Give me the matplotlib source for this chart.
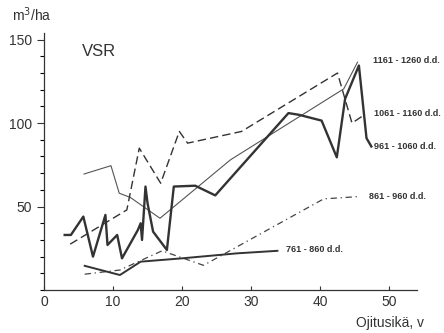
import matplotlib
matplotlib.use('Agg')
import matplotlib.pyplot as plt
from matplotlib.ticker import MultipleLocator

plt.rcParams['font.family'] = ['Liberation Sans', 'DejaVu Sans']

# Stand volume (m3/ha) against years since drainage, one series per temperature sum class
age_1161 = [5.8, 9.7, 10.9, 12.5, 16.8, 27.0, 43.4, 45.4]
vol_1161 = [69.5, 74.5, 58.0, 55.5, 43.0, 78.0, 120.5, 136.5]

age_1061 = [3.8, 12.0, 13.8, 16.9, 19.6, 20.8, 28.6, 42.5, 44.6, 46.4]
vol_1061 = [27.5, 48.0, 85.0, 64.0, 95.0, 88.0, 95.0, 130.0, 100.0, 105.0]

age_961 = [3.0, 3.9, 5.7, 7.1, 8.9, 9.2, 10.6, 11.3, 13.6, 14.0, 14.2, 14.7, 15.0,
           15.8, 17.8, 18.8, 21.9, 24.8, 35.4, 36.9, 40.2, 42.4, 43.6, 45.6, 46.7, 47.4]
vol_961 = [33.0, 33.0, 44.0, 20.0, 45.0, 27.0, 33.0, 19.0, 36.0, 40.0, 30.0, 62.0, 52.0,
           35.0, 24.0, 62.0, 62.5, 56.7, 106.0, 105.0, 101.5, 79.5, 114.5, 134.5, 91.0, 86.0]

age_861 = [5.9, 11.0, 17.1, 23.1, 40.5, 45.6]
vol_861 = [9.5, 12.0, 23.5, 14.8, 54.6, 56.0]

age_761 = [5.9, 11.0, 14.0, 20.0, 28.0, 33.8]
vol_761 = [14.5, 9.0, 17.0, 19.0, 22.0, 23.5]

labels = ['1161 - 1260 d.d.', '1061 - 1160 d.d.', '961 - 1060 d.d.',
          '861 - 960 d.d.', '761 - 860 d.d.']

x_ticks = [0, 10, 20, 30, 40, 50]
y_ticks = [50, 100, 150]

ink = '#333333'

fig = plt.figure(figsize=(4.44, 3.33), dpi=100)
ax = fig.add_axes([0.099, 0.129, 0.840, 0.772])

ax.plot(age_1161, vol_1161, color='#555555', lw=0.8)
ax.plot(age_1061, vol_1061, color=ink, lw=1.0, dashes=(6, 3))
ax.plot(age_961, vol_961, color=ink, lw=1.7)
ax.plot(age_861, vol_861, color='#444444', lw=0.9, dashes=(5, 3, 1, 3))
ax.plot(age_761, vol_761, color=ink, lw=1.4)

# class labels at the right end of each line
series = [(age_1161, vol_1161), (age_1061, vol_1061), (age_961, vol_961),
          (age_861, vol_861), (age_761, vol_761)]
offsets = [(11, 1), (7, 1), (2, 0), (7, 0), (6, 1)]
for (xs, ys), lab, off in zip(series, labels, offsets):
    ax.annotate(lab, xy=(xs[-1], ys[-1]), xytext=off, textcoords='offset points',
                fontsize=6.5, fontweight='bold', color=ink, va='center', ha='left',
                annotation_clip=False)

ax.text(5.5, 143, 'VSR', fontsize=12, color=ink, va='center')

ax.set_xlim(0, 54)
ax.set_ylim(0, 154)
ax.set_xticks(x_ticks)
ax.set_yticks(y_ticks)
ax.yaxis.set_minor_locator(MultipleLocator(10))
ax.tick_params(axis='both', labelsize=10, colors=ink, width=0.8)
ax.tick_params(axis='y', which='major', length=5)
ax.tick_params(axis='y', which='minor', length=3, width=0.8)
ax.tick_params(axis='x', which='major', direction='in', length=3)

for side in ['top', 'right']:
    ax.spines[side].set_visible(False)
for side in ['left', 'bottom']:
    ax.spines[side].set_color(ink)
    ax.spines[side].set_linewidth(0.9)

fig.text(0.027, 0.955, 'm$^3$/ha', fontsize=10, color=ink, va='center')
fig.text(0.955, 0.03, 'Ojitusikä, v', fontsize=10, color=ink, ha='right', va='center')

fig.savefig('out.png', dpi=100)
